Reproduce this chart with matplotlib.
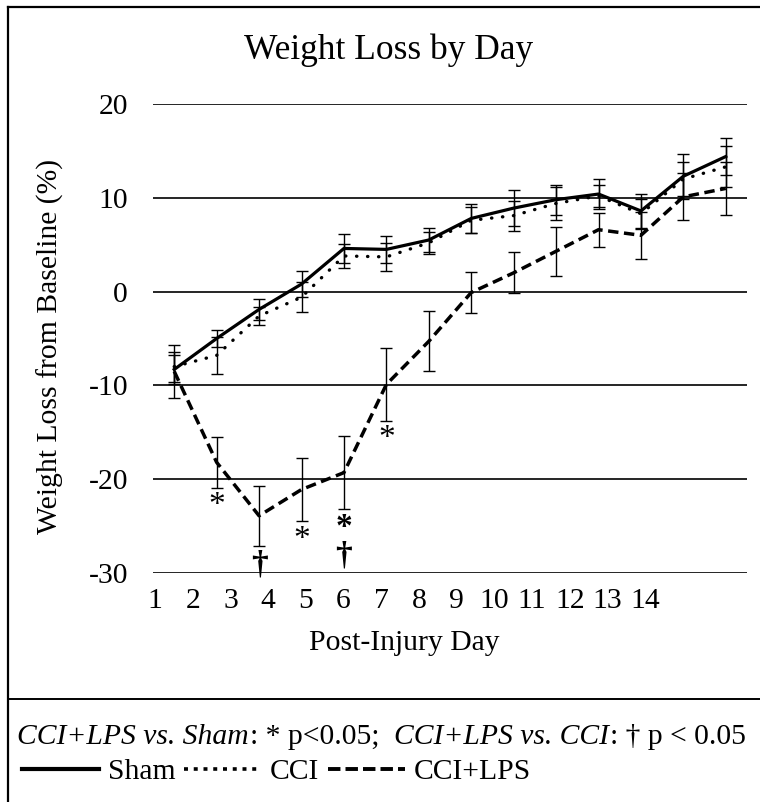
import numpy as np
import matplotlib
matplotlib.use("Agg")
from matplotlib import pyplot as plt
from matplotlib.lines import Line2D

plt.rcParams['font.family'] = ['Liberation Serif', 'DejaVu Serif']
plt.rcParams['axes.unicode_minus'] = False

# ---- data ----
days = list(range(1, 15))
sham = [-8.3, -5.0, -1.9, 0.8, 4.6, 4.5, 5.5, 7.8, 8.9, 9.8, 10.4, 8.6, 12.3, 14.4]
sham_sem = [1.5, 0.9, 1.1, 1.4, 1.5, 1.4, 1.3, 1.5, 1.9, 1.6, 1.6, 1.8, 2.4, 2.0]
cci = [-8.0, -6.8, -2.6, -0.6, 3.8, 3.7, 5.2, 7.6, 8.1, 9.4, 10.2, 8.3, 12.0, 13.3]
cci_sem = [1.6, 2.0, 1.0, 1.6, 1.3, 1.5, 1.2, 1.4, 1.6, 1.8, 1.2, 1.6, 1.8, 2.2]
lps = [-8.5, -18.2, -23.9, -21.1, -19.3, -9.9, -5.3, -0.1, 2.0, 4.3, 6.6, 6.0, 10.1, 11.0]
lps_sem = [2.8, 2.7, 3.2, 3.4, 3.9, 3.9, 3.2, 2.2, 2.2, 2.6, 1.8, 2.5, 2.5, 2.8]
groups = ['Sham', 'CCI', 'CCI+LPS']

# significance marks under the CCI+LPS bars: day index -> symbols
sig_marks = {1: '*', 2: '†', 3: '*', 4: '*\n†', 5: '*'}

W, H = 760, 802
FS = 21.3
fig = plt.figure(figsize=(W / 100, H / 100), dpi=100)

def px(x, y):
    return x / W, 1 - y / H

ax = fig.add_axes([153 / W, 1 - 573 / H, (747 - 153) / W, (573 - 104) / H])
x = np.arange(len(days))

styles = [
    (sham, sham_sem, dict(linestyle='-', lw=2.3)),
    (cci, cci_sem, dict(linestyle=(0, (0.1, 3.2)), lw=2.4, dash_capstyle='round')),
    (lps, lps_sem, dict(linestyle=(0, (3, 1.6)), lw=2.5)),
]
for vals, sem, st in styles:
    ax.errorbar(x, vals, yerr=sem, fmt='none', ecolor='black', elinewidth=1.0,
                capsize=4.3, capthick=1.0, zorder=3)
    ax.plot(x, vals, color='black', zorder=4, **st)

ax.set_xlim(-0.5, len(days) - 0.5)
ax.set_ylim(-30, 20)
ax.set_yticks([-30, -20, -10, 0, 10, 20])
ax.yaxis.grid(True, color='black', lw=1.2)
ax.set_axisbelow(True)
for s in ax.spines.values():
    s.set_visible(False)

# x labels in the original are not lined up with the points
tick_pos = np.linspace(-0.45, 11.1, len(days))
ax.set_xticks(tick_pos, [str(d) for d in days])
ax.tick_params(axis='both', length=0, labelsize=FS)
ax.tick_params(axis='y', pad=18)
ax.tick_params(axis='x', pad=11)

for i, m in sig_marks.items():
    low = lps[i] - lps_sem[i]
    if m == '*':
        ax.annotate(m, (x[i], low), xytext=(0, -2), textcoords='offset points',
                    ha='center', va='top', fontsize=24, clip_on=False)
    elif m == '†':
        ax.annotate(m, (x[i], low), xytext=(0, -3), textcoords='offset points',
                    ha='center', va='top', fontsize=24, fontweight='bold',
                    clip_on=False)
    else:
        ax.annotate(m, (x[i], low), xytext=(0, -2), textcoords='offset points',
                    ha='center', va='top', fontsize=24, fontweight='bold',
                    linespacing=0.88, clip_on=False)

fig.text(*px(389, 50), 'Weight Loss by Day', fontsize=25.5, ha='center', va='center')
fig.text(*px(50, 346), 'Weight Loss from Baseline (%)', fontsize=FS,
         rotation=90, ha='center', va='center')
fig.text(*px(404, 643), 'Post-Injury Day', fontsize=FS, ha='center', va='center')

# frame and separator
fig.add_artist(Line2D([8 / W, 8 / W], [0, 1 - 7 / H], color='black', lw=1.6))
fig.add_artist(Line2D([8 / W, 1], [1 - 7 / H, 1 - 7 / H], color='black', lw=1.6))
fig.add_artist(Line2D([8 / W, 1], [1 - 699 / H, 1 - 699 / H], color='black', lw=1.4))

# first legend line with mixed italic / upright pieces
pieces = [
    ('CCI+LPS vs. Sham', 'italic', 0),
    (': * p<0.05;', 'normal', 0),
    ('CCI+LPS vs. CCI', 'italic', 14),
    (': † p < 0.05', 'normal', 0),
]
fig.canvas.draw()
renderer = fig.canvas.get_renderer()
cur = 17
for txt, style, gap in pieces:
    cur += gap
    t = fig.text(*px(cur, 737), txt, fontsize=FS, style=style, ha='left', va='center')
    bb = t.get_window_extent(renderer)
    cur += bb.width + 1

# legend keys (drawn like the original's squared dots / long dashes)
keys = [
    Line2D([], [], color='black', lw=3.0),
    Line2D([], [], color='black', lw=2.6, linestyle=(0, (1.1, 1.6))),
    Line2D([], [], color='black', lw=2.8, linestyle=(0, (3.2, 1.3))),
]
fig.legend(keys, groups, loc='center left',
           bbox_to_anchor=px(22, 772), ncol=3, frameon=False, fontsize=FS,
           handlelength=2.6, handletextpad=0.3, columnspacing=0.3,
           borderpad=0, borderaxespad=0)

fig.savefig('out.png', dpi=100)
